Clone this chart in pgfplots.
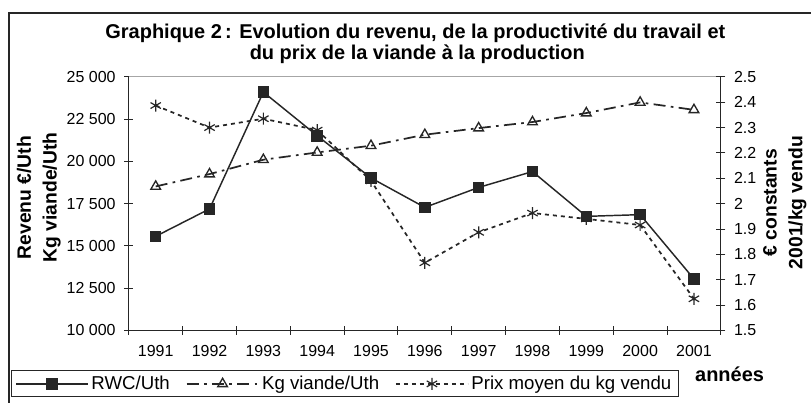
\documentclass[border=0pt]{standalone}
\usepackage{pgfplots}
\pgfplotsset{compat=1.18}
\usepackage{fontspec}
\setmainfont{Liberation Sans}
\definecolor{ink}{HTML}{262626}
\pgfplotsset{
  rwc/.style={color=ink, line width=1.1pt, mark=square*, mark size=3.8pt, mark options={solid, fill=ink}},
  kgv/.style={color=ink, line width=1.3pt, dash pattern=on 9pt off 4pt on 2pt off 4pt, mark=triangle, mark size=4.2pt, mark options={solid, fill=white, line width=1pt}},
  prix/.style={color=ink, line width=1.3pt, dash pattern=on 3pt off 3pt, mark=asterisk, mark size=4.5pt, mark options={solid, line width=0.9pt}},
}
\begin{document}
\begin{tikzpicture}
\begin{scope}[x=0.75pt,y=0.75pt]
\useasboundingbox (0,0) rectangle (811,403);
\draw[line width=1.1pt, ink] (9,-10) -- (9,390) -- (830,390);
\node[anchor=base, font=\bfseries\fontsize{15}{18}\selectfont] at (416,364) {Graphique 2\,: Evolution du revenu, de la productivité du travail et};
\node[anchor=base, font=\bfseries\fontsize{15}{18}\selectfont] at (418,343) {du prix de la viande à la production};
\node[anchor=west, font=\bfseries\fontsize{15}{18}\selectfont, inner sep=0pt] at (696,28) {années};
\end{scope}

\begin{axis}[
  at={(96.75pt,54pt)}, anchor=south west,
  scale only axis, width=444.75pt, height=190.5pt,
  xmin=-0.5, xmax=10.5, ymin=10000, ymax=25000,
  scaled y ticks=false,
  axis x line*=bottom, axis y line*=left,
  axis line style={line width=0.8pt, ink},
  clip=false,
  /pgf/number format/assume math mode=true,
  tick align=center, major tick length=6.75pt,
  tick style={line width=0.8pt, ink},
  tick label style={font=\fontsize{12}{14}\selectfont},
  xtick={-0.5,0.5,...,10.5}, xticklabels={},
  extra x ticks={0,1,2,3,4,5,6,7,8,9,10},
  extra x tick labels={1991,1992,1993,1994,1995,1996,1997,1998,1999,2000,2001},
  extra x tick style={major tick length=0pt, xticklabel style={yshift=-8pt}},
  ytick={10000,12500,15000,17500,20000,22500,25000},
  yticklabels={10 000,12 500,15 000,17 500,20 000,22 500,25 000},
  yticklabel style={xshift=-3pt},
  ylabel={Revenu €/Uth\\Kg viande/Uth},
  ylabel style={align=center, font=\bfseries\fontsize{14.5}{19.5}\selectfont, at={(rel axis cs:-0.152,0.524)}, anchor=center},
]
\draw[gray!70, line width=0.8pt] (rel axis cs:0,1) -- (rel axis cs:1,1);
\addplot[kgv] coordinates {(0,18520) (1,19250) (2,20100) (3,20530) (4,20930) (5,21580) (6,21970) (7,22330) (8,22860) (9,23490) (10,23050)};
\addplot[rwc] coordinates {(0,15570) (1,17190) (2,24100) (3,21520) (4,19020) (5,17280) (6,18460) (7,19400) (8,16750) (9,16850) (10,13050)};
\end{axis}

\begin{axis}[
  at={(96.75pt,54pt)}, anchor=south west,
  scale only axis, width=444.75pt, height=190.5pt,
  xmin=-0.5, xmax=10.5, ymin=1.5, ymax=2.5,
  axis x line=none, axis y line*=right,
  axis line style={line width=0.8pt, ink},
  clip=false,
  /pgf/number format/assume math mode=true,
  tick align=center, major tick length=6.75pt,
  tick style={line width=0.8pt, ink},
  tick label style={font=\fontsize{12}{14}\selectfont},
  ytick={1.5,1.6,1.7,1.8,1.9,2.0,2.1,2.2,2.3,2.4,2.5},
  yticklabels={1.5,1.6,1.7,1.8,1.9,2,2.1,2.2,2.3,2.4,2.5},
  yticklabel style={xshift=3pt},
  ylabel={€ constants\\2001/kg vendu},
  ylabel style={align=center, font=\bfseries\fontsize{14.5}{19.5}\selectfont, at={(rel axis cs:1.108,0.504)}, anchor=center, rotate=0},
  legend columns=3,
  legend cell align=left,
  legend style={at={(rel axis cs:-0.199,-0.157)}, anchor=north west, draw=ink, line width=0.75pt, font=\fontsize{14}{16}\selectfont, inner xsep=3pt, inner ysep=2pt, /tikz/every even column/.append style={column sep=10pt}},
  legend image code/.code={\draw[mark repeat=2,mark phase=2,#1] plot coordinates {(0pt,0pt) (27pt,0pt) (54pt,0pt)};},
]
\addlegendimage{rwc}
\addlegendentry{RWC/Uth}
\addlegendimage{kgv}
\addlegendentry{Kg viande/Uth}
\addplot[prix] coordinates {(0,2.387) (1,2.30) (2,2.335) (3,2.29) (4,2.09) (5,1.767) (6,1.887) (7,1.963) (8,1.94) (9,1.916) (10,1.625)};
\addlegendentry{Prix moyen du kg vendu}
\end{axis}
\end{tikzpicture}
\end{document}
